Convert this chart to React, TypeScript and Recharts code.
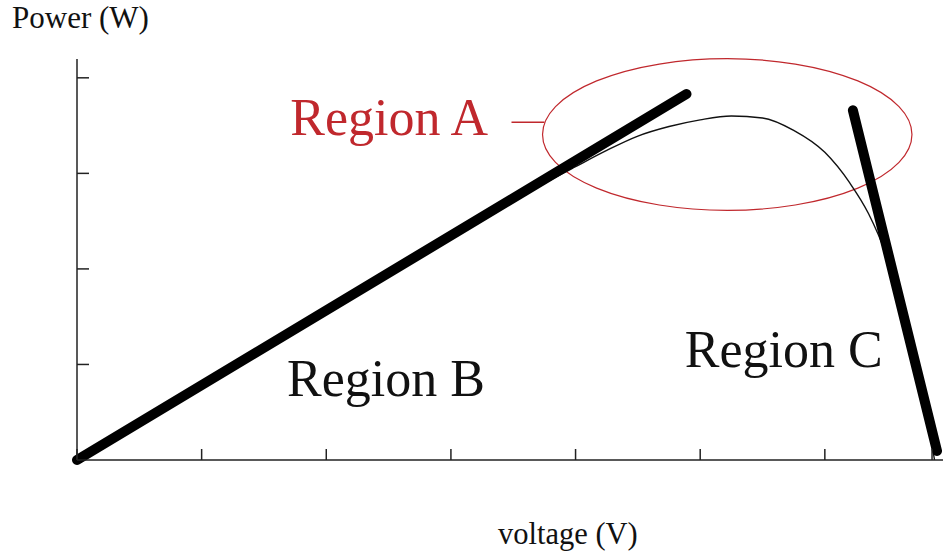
import {
  Line,
  LineChart,
  ReferenceArea,
  ReferenceDot,
  ReferenceLine,
  XAxis,
  YAxis,
} from "recharts";

// ─── Data (voltage in tick units, power in tick units) ───────────────────────
const curveV = [0, 1, 2, 3, 3.5, 4, 4.25, 4.5, 4.75, 5, 5.25, 5.5, 5.75, 6, 6.2, 6.35, 6.5, 6.65, 6.8, 6.88];
const curveP = [0, 0.78, 1.56, 2.34, 2.72, 3.07, 3.24, 3.39, 3.49, 3.56, 3.6, 3.58, 3.45, 3.22, 2.9, 2.58, 2.12, 1.45, 0.6, 0];

const lineBV = [0, 4.89];
const lineBP = [0, 3.83];

const lineCV = [6.225, 6.9];
const lineCP = [3.66, 0.094];

const xTicks = [0, 1, 2, 3, 4, 5, 6, 6.86];
const yTicks = [1, 2, 3, 4];

// ellipse bounding box around the knee (Region A)
const ellipseV = [3.735, 6.699];
const ellipseP = [2.613, 4.2];
const connectorV = [3.486, 3.751];
const connectorP = 3.536;

const regionLabels = [
  { text: "Region A", v: 1.711, p: 3.4, color: "#c0282d" },
  { text: "Region B", v: 1.685, p: 0.672, color: "#111111" },
  { text: "Region C", v: 4.876, p: 0.976, color: "#111111" },
];

// ─── Styles ──────────────────────────────────────────────────────────────────
const FONT = '"Liberation Serif", "Times New Roman", serif';
const AXIS = "#222222";
const RED = "#c0282d";

const toRows = (v: number[], p: number[]) => v.map((x, i) => ({ v: x, p: p[i] }));

export default function App() {
  const curve = toRows(curveV, curveP);
  const lineB = toRows(lineBV, lineBP);
  const lineC = toRows(lineCV, lineCP);

  return (
    <div style={{ position: "absolute", left: 0, top: 0, width: 943, height: 554, background: "#fff" }}>
      <div
        style={{
          position: "absolute",
          left: 12,
          top: 0,
          fontFamily: FONT,
          fontSize: 31,
          color: "#111",
          lineHeight: "36px",
          whiteSpace: "nowrap",
        }}
      >
        Power (W)
      </div>
      <div
        style={{
          position: "absolute",
          left: 498,
          top: 516,
          fontFamily: FONT,
          fontSize: 30.5,
          color: "#111",
          lineHeight: "36px",
          whiteSpace: "nowrap",
        }}
      >
        voltage (V)
      </div>

      <LineChart
        width={943}
        height={554}
        margin={{ top: 59, right: 0, bottom: 94, left: 77 }}
      >
        <XAxis
          dataKey="v"
          type="number"
          domain={[0, 6.948]}
          ticks={xTicks}
          interval={0}
          height={1}
          mirror
          tickSize={11}
          tickFormatter={() => ""}
          axisLine={{ stroke: AXIS, strokeWidth: 1.5 }}
          tickLine={{ stroke: AXIS, strokeWidth: 1.5 }}
        />
        <YAxis
          type="number"
          domain={[0, 4.197]}
          ticks={yTicks}
          interval={0}
          width={1}
          mirror
          tickSize={12}
          tickFormatter={() => ""}
          axisLine={{ stroke: AXIS, strokeWidth: 1.5 }}
          tickLine={{ stroke: AXIS, strokeWidth: 1.5 }}
        />

        {/* ── P-V curve (thin) ── */}
        <Line
          data={curve}
          dataKey="p"
          type="monotone"
          stroke="#111"
          strokeWidth={1.4}
          dot={false}
          activeDot={false}
          isAnimationActive={false}
        />

        {/* ── Region B / C approximations (thick) ── */}
        <Line
          data={lineB}
          dataKey="p"
          type="linear"
          stroke="#000"
          strokeWidth={10}
          strokeLinecap="round"
          dot={false}
          activeDot={false}
          isAnimationActive={false}
        />
        <Line
          data={lineC}
          dataKey="p"
          type="linear"
          stroke="#000"
          strokeWidth={10}
          strokeLinecap="round"
          dot={false}
          activeDot={false}
          isAnimationActive={false}
        />

        {/* ── Region A ellipse + connector ── */}
        <ReferenceArea
          x1={ellipseV[0]}
          x2={ellipseV[1]}
          y1={ellipseP[0]}
          y2={ellipseP[1]}
          ifOverflow="visible"
          shape={(props: any) => (
            <ellipse
              cx={props.x + props.width / 2}
              cy={props.y + props.height / 2}
              rx={Math.abs(props.width) / 2}
              ry={Math.abs(props.height) / 2}
              fill="none"
              stroke={RED}
              strokeWidth={1.2}
            />
          )}
        />
        <ReferenceLine
          segment={[
            { x: connectorV[0], y: connectorP },
            { x: connectorV[1], y: connectorP },
          ]}
          stroke={RED}
          strokeWidth={1.5}
        />

        {regionLabels.map((l) => (
          <ReferenceDot
            key={l.text}
            x={l.v}
            y={l.p}
            r={0}
            ifOverflow="visible"
            shape={(props: any) => (
              <text
                x={props.cx}
                y={props.cy}
                fill={l.color}
                fontFamily={FONT}
                fontSize={52}
                textAnchor="start"
              >
                {l.text}
              </text>
            )}
          />
        ))}
      </LineChart>
    </div>
  );
}
